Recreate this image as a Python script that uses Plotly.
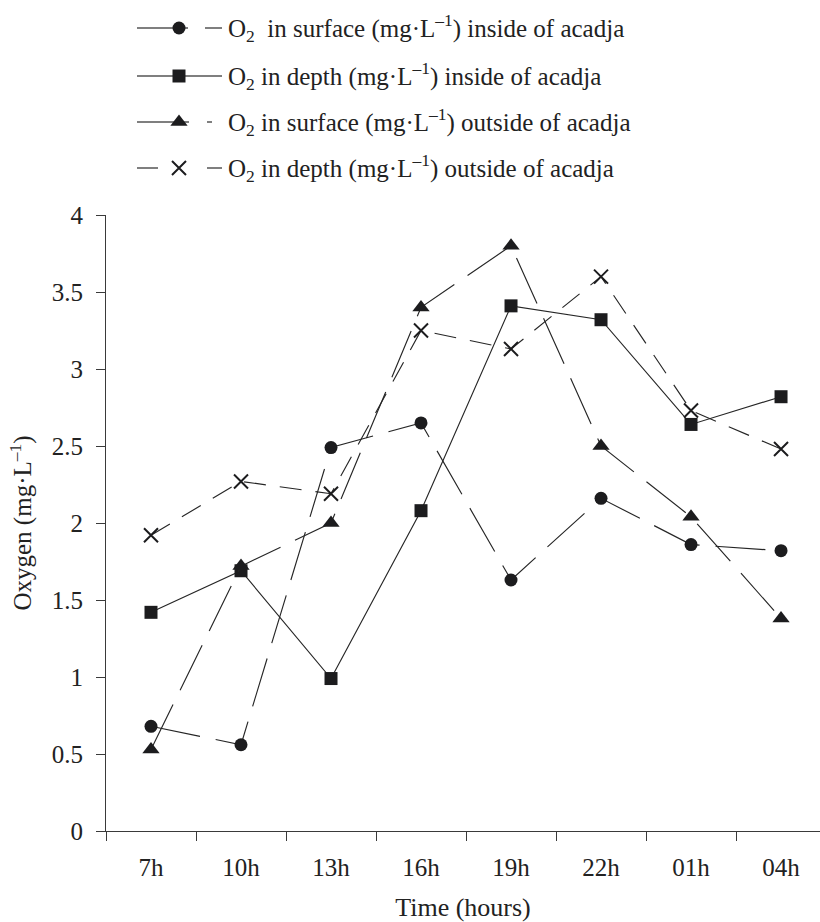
import plotly.graph_objects as go

hours = ["7h", "10h", "13h", "16h", "19h", "22h", "01h", "04h"]
surf_in = [0.68, 0.56, 2.49, 2.65, 1.63, 2.16, 1.86, 1.82]
depth_in = [1.42, 1.69, 0.99, 2.08, 3.41, 3.32, 2.64, 2.82]
surf_out = [0.53, 1.72, 2.00, 3.40, 3.80, 2.50, 2.04, 1.38]
depth_out = [1.92, 2.27, 2.19, 3.25, 3.13, 3.60, 2.73, 2.48]

names = [
    "O<sub>2</sub>&nbsp; in surface (mg·L<sup>–1</sup>) inside of acadja",
    "O<sub>2</sub> in depth (mg·L<sup>–1</sup>) inside of acadja",
    "O<sub>2</sub> in surface (mg·L<sup>–1</sup>) outside of acadja",
    "O<sub>2</sub> in depth (mg·L<sup>–1</sup>) outside of acadja",
]

INK = "#1c1c1e"
LINE = "#262626"
AX = "#3a3a3a"
FONT = "Liberation Serif"
W, H = 820, 922

# style per series: symbol, marker size, data dash, legend-sample dash
styles = [
    ("circle", 13, "50px,16px", "51px,17px,17px,300px"),
    ("square", 13, "solid", "solid"),
    ("triangle-up", 15, "50px,16px", "52px,18px,5px,300px"),
    ("x-thin-open", 14, "22px,14px", "21px,49px,15px,300px"),
]
series = [surf_in, depth_in, surf_out, depth_out]

fig = go.Figure()
for vals, (sym, sz, dash, _), nm in zip(series, styles, names):
    fig.add_trace(go.Scatter(
        x=hours, y=vals, name=nm, mode="lines+markers", showlegend=False,
        xaxis="x", yaxis="y",
        line=dict(color=LINE, width=1.15, dash=dash),
        marker=dict(symbol=sym, size=sz, color=INK,
                    line=dict(color=INK, width=2 if sym.startswith("x") else 0)),
    ))

# hand-built legend on a pixel-scaled overlay axis (top margin area)
leg_rows = [28, 76, 122, 168]
leg_x0, leg_xm, leg_x1, leg_tx = 137, 179, 222, 226
for (sym, sz, _, ldash), nm, ry in zip(styles, names, leg_rows):
    fig.add_trace(go.Scatter(
        x=[leg_x0, leg_x1], y=[ry, ry], mode="lines", showlegend=False,
        xaxis="x2", yaxis="y2", hoverinfo="skip",
        line=dict(color="#555", width=1.3, dash=ldash),
    ))
    fig.add_trace(go.Scatter(
        x=[leg_xm], y=[ry], mode="markers", showlegend=False,
        xaxis="x2", yaxis="y2", hoverinfo="skip",
        marker=dict(symbol=sym, size=sz, color=INK,
                    line=dict(color=INK, width=2 if sym.startswith("x") else 0)),
    ))
    fig.add_annotation(
        x=leg_tx, y=ry, xref="x2", yref="y2", text=nm, showarrow=False,
        xanchor="left", yanchor="middle",
        font=dict(family=FONT, size=25, color="#222"),
    )

fig.update_layout(
    width=W, height=H,
    margin=dict(l=0, r=0, t=0, b=0, autoexpand=False),
    paper_bgcolor="white", plot_bgcolor="rgba(0,0,0,0)",
    font=dict(family=FONT, size=25, color="#222"),
    showlegend=False,
    xaxis=dict(
        domain=[106 / W, 1.0], anchor="y", automargin=False,
        type="category", range=[-0.5, 7.433],
        showline=True, linecolor=AX, linewidth=1.2,
        ticks="outside", ticklen=9, tickcolor=AX, tickwidth=1.2,
        tickson="boundaries", showgrid=False, zeroline=False,
        ticklabelstandoff=14,
        tickfont=dict(family=FONT, size=25, color="#222"),
        title=dict(text="Time (hours)", font=dict(family=FONT, size=26), standoff=18),
    ),
    yaxis=dict(
        domain=[91 / H, 707 / H], anchor="x", automargin=False,
        range=[0, 4], dtick=0.5,
        showline=True, linecolor=AX, linewidth=1.2,
        ticks="outside", ticklen=9, tickcolor=AX, tickwidth=1.2,
        showgrid=False, zeroline=False,
        ticklabelstandoff=8,
        tickfont=dict(family=FONT, size=25, color="#222"),
        title=dict(text="Oxygen (mg·L<sup>–1</sup>)", font=dict(family=FONT, size=25), standoff=12),
    ),
    xaxis2=dict(domain=[0, 1], range=[0, W], anchor="y2", visible=False,
                fixedrange=True, automargin=False),
    yaxis2=dict(domain=[0, 1], range=[H, 0], anchor="x2", visible=False,
                fixedrange=True, automargin=False),
)

fig.write_html("out.html")
